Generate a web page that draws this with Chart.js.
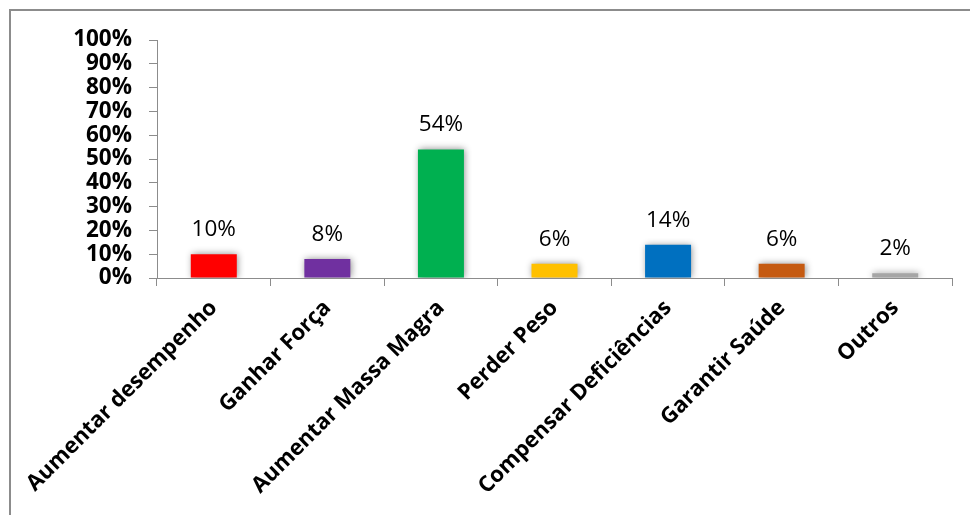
<!DOCTYPE html>
<html>
<head>
<meta charset="utf-8">
<script src="https://cdn.jsdelivr.net/npm/chart.js@4/dist/chart.umd.min.js"></script>
<style>
  html, body { margin: 0; padding: 0; background: #fff; }
  #wrap { position: relative; width: 970px; height: 515px; overflow: hidden; }
  #frame { position: absolute; left: 9px; top: 9px; width: 980px; height: 540px;
           border-top: 2px solid #8c8c8c; border-left: 2px solid #8c8c8c; box-sizing: border-box; }
  #chart { position: absolute; left: 0; top: 0; }
</style>
</head>
<body>
<div id="wrap">
  <div id="frame"></div>
  <canvas id="chart" width="970" height="515"></canvas>
</div>
<script>
// ─── data ───
const categories = ['Aumentar desempenho', 'Ganhar Força', 'Aumentar Massa Magra', 'Perder Peso',
                    'Compensar Deficiências', 'Garantir Saúde', 'Outros'];
const percents = [10, 8, 54, 6, 14, 6, 2];
const barColors = ['#ff0000', '#7030a0', '#00b050', '#ffc000', '#0070c0', '#c55a11', '#a5a5a5'];
const yTicks = [0, 10, 20, 30, 40, 50, 60, 70, 80, 90, 100];

const axisGray = '#8c8c8c';
const fontFamily = '"Open Sans", sans-serif';

// soft shadow behind the bars
const barShadow = {
  id: 'barShadow',
  beforeDatasetsDraw(chart) {
    const c = chart.ctx;
    c.save();
    c.shadowColor = 'rgba(0,0,0,0.45)';
    c.shadowBlur = 7;
    c.shadowOffsetX = 1;
    c.shadowOffsetY = 0;
  },
  afterDatasetsDraw(chart) { chart.ctx.restore(); }
};

// percent labels above each bar
const valueLabels = {
  id: 'valueLabels',
  afterDraw(chart) {
    const c = chart.ctx;
    const meta = chart.getDatasetMeta(0);
    c.save();
    c.font = '22.5px ' + fontFamily;
    c.fillStyle = '#000';
    c.textAlign = 'center';
    c.textBaseline = 'alphabetic';
    meta.data.forEach((bar, i) => {
      c.fillText(percents[i] + '%', bar.x, bar.y - 18);
    });
    c.restore();
  }
};

new Chart(document.getElementById('chart'), {
  type: 'bar',
  data: {
    labels: categories,
    datasets: [{
      data: percents,
      backgroundColor: barColors,
      borderWidth: 0,
      categoryPercentage: 1,
      barPercentage: 0.405
    }]
  },
  options: {
    responsive: false,
    animation: false,
    layout: { padding: { top: 40, right: 18, left: 0, bottom: 0 } },
    plugins: { legend: { display: false }, tooltip: { enabled: false } },
    scales: {
      x: {
        grid: { drawOnChartArea: false, tickLength: 8, color: axisGray, offset: true },
        border: { color: axisGray, width: 1 },
        ticks: {
          color: '#000', minRotation: 45, maxRotation: 45, autoSkip: false,
          font: { family: fontFamily, size: 22, weight: 'bold' }, padding: 9
        },
        afterFit: s => { s.height = 237; }
      },
      y: {
        min: 0, max: 100,
        afterBuildTicks: s => { s.ticks = yTicks.map(v => ({ value: v })); },
        grid: { drawOnChartArea: false, tickLength: 8, color: axisGray },
        border: { color: axisGray, width: 1 },
        ticks: {
          color: '#000', padding: 17, autoSkip: false,
          font: { family: fontFamily, size: 22.5, weight: 'bold', lineHeight: 1 },
          callback: v => v + '%'
        },
        afterFit: s => { s.width = 157; }
      }
    }
  },
  plugins: [barShadow, valueLabels]
});
</script>
</body>
</html>
